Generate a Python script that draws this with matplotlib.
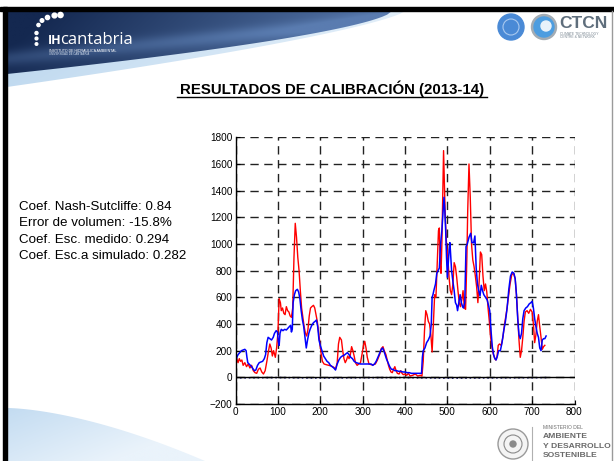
import numpy as np
import matplotlib.pyplot as plt
from matplotlib.patches import Polygon, Circle, Rectangle
from matplotlib.colors import to_rgb

plt.rcParams['font.family'] = ['Liberation Sans', 'DejaVu Sans']

# Caudal medido (rojo): dia, valor
obs_days = [0, 3, 6, 9, 12, 15, 18, 22, 26, 30, 34, 38, 42, 46, 50, 54, 58, 62, 66, 70,
            74, 78, 81, 84, 87, 90, 94, 97, 100, 103, 106, 108, 111, 114, 117, 120, 123, 126, 129, 132,
            135, 138, 141, 144, 147, 150, 153, 156, 159, 162, 165, 168, 171, 174, 177, 180, 184, 187, 190, 193,
            196, 199, 202, 205, 209, 214, 220, 226, 232, 236, 240, 243, 246, 250, 253, 256, 259, 262, 265, 268,
            271, 274, 277, 280, 283, 287, 291, 295, 299, 302, 305, 308, 311, 315, 320, 325, 330, 335, 340, 344,
            348, 351, 355, 358, 361, 364, 367, 370, 373, 376, 379, 382, 386, 390, 393, 396, 400, 404, 408, 412,
            418, 424, 430, 436, 440, 443, 446, 449, 452, 455, 458, 461, 464, 467, 470, 473, 476, 479, 481, 483,
            485, 487, 489, 491, 493, 495, 498, 501, 504, 507, 510, 513, 516, 519, 522, 525, 528, 531, 534, 537,
            540, 543, 546, 548, 551, 554, 557, 560, 563, 566, 569, 572, 575, 578, 581, 584, 587, 590, 593, 596,
            599, 602, 605, 608, 611, 614, 617, 620, 623, 627, 631, 635, 640, 644, 648, 652, 656, 660, 663, 666,
            669, 672, 675, 678, 681, 684, 688, 692, 696, 700, 703, 706, 709, 712, 715, 718, 721, 724, 727, 730]
obs_vals = [100, 140, 110, 140, 120, 130, 90, 110, 80, 100, 70, 90, 50, 35, 30, 60, 70, 40, 25, 50,
            120, 200, 250, 220, 160, 200, 150, 220, 330, 590, 560, 500, 520, 480, 470, 530, 500, 490, 460, 450,
            520, 900, 1155, 1050, 900, 800, 650, 520, 450, 380, 330, 310, 360, 460, 520, 530, 540, 520, 470, 420,
            340, 260, 180, 120, 100, 95, 90, 85, 75, 60, 110, 250, 300, 280, 200, 140, 110, 130, 160, 140,
            170, 230, 200, 160, 110, 90, 100, 110, 180, 240, 270, 220, 150, 100, 95, 95, 100, 130, 170, 215,
            230, 200, 170, 130, 90, 60, 40, 35, 60, 80, 50, 30, 25, 50, 30, 20, 25, 15, 30, 10,
            15, 25, 10, 15, 10, 120, 350, 500, 470, 420, 400, 320, 190, 400, 620, 600, 850, 1100, 1120, 850,
            780, 1000, 1350, 1700, 1450, 1200, 1000, 900, 750, 650, 620, 700, 860, 830, 750, 650, 560, 530, 580, 650,
            520, 510, 900, 1250, 1600, 1350, 1000, 880, 830, 760, 680, 560, 720, 940, 920, 760, 650, 700, 640, 520,
            420, 300, 230, 180, 150, 130, 150, 240, 250, 240, 300, 400, 500, 600, 700, 770, 780, 740, 620, 450,
            280, 150, 200, 300, 420, 490, 500, 480, 510, 490, 400, 260, 320, 420, 470, 380, 300, 210, 230, 240]

# Caudal simulado (azul): dia, valor
sim_days = [0, 3, 6, 10, 14, 18, 22, 25, 27, 29, 32, 35, 38, 42, 45, 48, 52, 56, 60, 64,
            68, 71, 74, 77, 81, 85, 89, 92, 96, 99, 101, 103, 105, 108, 112, 116, 120, 124, 127, 130,
            132, 134, 136, 139, 142, 146, 149, 152, 155, 158, 161, 164, 167, 170, 173, 176, 180, 184, 188, 191,
            194, 197, 200, 204, 208, 212, 216, 220, 224, 228, 232, 236, 240, 244, 248, 252, 256, 260, 264, 268,
            272, 276, 280, 285, 290, 295, 300, 305, 310, 315, 320, 324, 328, 332, 336, 340, 344, 347, 350, 353,
            356, 360, 364, 368, 372, 376, 380, 385, 390, 395, 400, 405, 410, 415, 420, 425, 430, 435, 439, 441,
            443, 447, 451, 455, 459, 462, 464, 466, 468, 472, 475, 478, 481, 484, 487, 490, 492, 494, 496, 498,
            500, 502, 504, 506, 508, 510, 513, 516, 519, 522, 524, 527, 530, 533, 536, 538, 541, 544, 547, 551,
            555, 558, 562, 565, 568, 571, 574, 577, 580, 583, 586, 590, 594, 597, 600, 603, 606, 609, 612, 615,
            618, 621, 625, 629, 633, 637, 641, 645, 649, 653, 657, 660, 663, 666, 669, 672, 675, 678, 681, 685,
            689, 693, 697, 700, 703, 706, 709, 712, 715, 718, 721, 724, 727, 730, 733]
sim_vals = [110, 150, 170, 185, 200, 205, 210, 200, 150, 110, 100, 90, 80, 60, 50, 55, 90, 110, 115, 120,
            140, 170, 260, 300, 290, 280, 300, 330, 350, 340, 270, 240, 330, 360, 350, 360, 355, 370, 380, 390,
            340, 360, 560, 620, 650, 660, 640, 590, 500, 430, 380, 300, 220, 280, 330, 360, 390, 410, 420, 430,
            380, 280, 240, 200, 160, 140, 120, 110, 90, 80, 70, 55, 100, 130, 150, 160, 165, 175, 185, 170,
            150, 140, 120, 110, 105, 100, 100, 100, 100, 100, 100, 90, 100, 120, 150, 180, 210, 220, 200, 170,
            140, 110, 80, 60, 60, 50, 50, 45, 45, 40, 40, 35, 35, 30, 30, 30, 30, 30, 30, 150,
            200, 220, 260, 280, 310, 400, 600, 620, 650, 700, 780, 800, 820, 1000, 1100, 1250, 1350, 1250, 1100, 900,
            750, 850, 950, 1010, 900, 800, 720, 650, 560, 540, 500, 560, 620, 560, 530, 520, 560, 980, 1000, 1050,
            1080, 1010, 1010, 1060, 820, 700, 650, 610, 690, 650, 620, 600, 580, 540, 500, 350, 230, 170, 140, 130,
            160, 200, 200, 260, 350, 420, 520, 660, 760, 790, 780, 740, 620, 440, 320, 290, 330, 440, 500, 520,
            530, 550, 560, 570, 520, 440, 380, 330, 300, 220, 200, 280, 290, 290, 310]

# Serie auxiliar cercana a cero
aux_days = [0, 100, 200, 300, 400, 500, 600, 700, 735]
aux_vals = [-4, -2, -5, -3, -2, -6, -4, -3, -2]

title = "RESULTADOS DE CALIBRACIÓN (2013-14)"
stats = ["Coef. Nash-Sutcliffe: 0.84",
         "Error de volumen: -15.8%",
         "Coef. Esc. medido: 0.294",
         "Coef. Esc.a simulado: 0.282"]
x_ticks = [0, 100, 200, 300, 400, 500, 600, 700, 800]
y_ticks = [-200, 0, 200, 400, 600, 800, 1000, 1200, 1400, 1600, 1800]

W, H = 614, 461
fig = plt.figure(figsize=(W / 100, H / 100), dpi=100)

# fondo de la diapositiva en coordenadas de pixel
bg = fig.add_axes([0, 0, 1, 1])
bg.set_xlim(0, W)
bg.set_ylim(H, 0)
bg.axis('off')


def gradient_fill(pts, c0, c1, extent, angle=0.0, streak=None):
    poly = Polygon(pts, closed=True, facecolor='none', edgecolor='none')
    bg.add_patch(poly)
    nx, ny = 300, 80
    u, v = np.meshgrid(np.linspace(0, 1, nx), np.linspace(0, 1, ny))
    t = np.clip(u * np.cos(angle) + v * np.sin(angle), 0, 1)
    if streak is not None:
        t = np.clip(t + streak(u, v), 0, 1)
    a, b = np.array(to_rgb(c0)), np.array(to_rgb(c1))
    img = a[None, None, :] * (1 - t[..., None]) + b[None, None, :] * t[..., None]
    im = bg.imshow(img, extent=extent, aspect='auto', interpolation='bilinear', zorder=1)
    im.set_clip_path(poly)


# franja azul clara bajo la cabecera
xs = np.linspace(7, 405, 80)
low_light = 11 + 76 * ((405 - xs) / 398) ** 0.75
pts = np.vstack([np.column_stack([xs, low_light]), [[405, 11], [7, 11]]])
gradient_fill(pts, '#b4d2ec', '#e4f0fa', [7, 405, 90, 10], angle=0.3)

# cabecera azul oscuro
xs = np.linspace(7, 392, 80)
low_dark = 11 + 63 * ((392 - xs) / 385) ** 0.65
pts = np.vstack([np.column_stack([xs, low_dark]), [[392, 11], [7, 11]]])
gradient_fill(pts, '#142850', '#5a7cb0', [7, 392, 75, 10], angle=0.15,
              streak=lambda u, v: 0.35 * np.exp(-((v - 0.75 + 0.6 * u) / 0.12) ** 2) - 0.1)

# curva azul clara inferior izquierda
xs = np.linspace(7, 205, 60)
top_curve = 408 + 53 * ((xs - 7) / 198) ** 1.6
pts = np.vstack([np.column_stack([xs, top_curve]), [[205, H], [7, H]]])
gradient_fill(pts, '#c2dbf1', '#eaf3fb', [7, 205, H, 405], angle=0.6)

# bordes de la diapositiva
bg.add_patch(Rectangle((0, 7), W, 4, color='black', zorder=5))
bg.add_patch(Rectangle((3, 7), 4, H - 7, color='black', zorder=5))
bg.plot([611.5, 611.5], [11, H], color='#9a9a9a', lw=1, zorder=5)

# logo IH cantabria
for cx, cy, r in [(60.5, 15, 2.6), (54.5, 15.5, 2.4), (47.5, 17.5, 2.1), (42, 20.5, 1.8),
                  (38.5, 25, 1.6), (36.5, 33, 1.5), (36.5, 38.5, 1.4), (36.5, 44, 1.3)]:
    bg.add_patch(Circle((cx, cy), r, color='white', zorder=6))
bg.text(47.5, 44, "IH", color='white', fontsize=9, fontweight='bold',
        family=['Open Sans', 'DejaVu Sans'], va='baseline', zorder=6)
bg.text(60.5, 44, "cantabria", color='white', fontsize=12,
        family=['Open Sans', 'DejaVu Sans'], va='baseline', zorder=6)
bg.text(49, 50.5, "INSTITUTO DE HIDRÁULICA AMBIENTAL", color='white', fontsize=2.6,
        va='center', zorder=6)
bg.text(49, 54, "UNIVERSIDAD DE CANTABRIA", color='#d8e2f0', fontsize=2,
        va='center', zorder=6)

# logo CTCN
bg.add_patch(Circle((511, 27), 13, color='#4a8ad6', zorder=6))
bg.add_patch(Circle((511, 27), 8, facecolor='none', edgecolor='#a9c9ef', lw=0.8, zorder=6))
bg.add_patch(Circle((544, 27), 12.5, color='#a3acb4', zorder=6))
bg.add_patch(Circle((544, 27), 10, color='#4d9de0', zorder=6))
bg.add_patch(Circle((546, 26), 5, color='#e9f2fa', zorder=6))
bg.text(559, 24, "CTCN", color='#5f6e7c', fontsize=12.5, fontweight='bold',
        va='center', zorder=6)
bg.text(560, 34, "CLIMATE TECHNOLOGY", color='#7a8792', fontsize=2.4, va='center', zorder=6)
bg.text(560, 37.5, "CENTRE & NETWORK", color='#7a8792', fontsize=2.4, va='center', zorder=6)

# logo del ministerio
bg.add_patch(Circle((513, 444), 15, facecolor='#f4f4f4', edgecolor='#9a9a9a', lw=1, zorder=6))
bg.add_patch(Circle((513, 444), 9, facecolor='none', edgecolor='#8a8a8a', lw=0.8, zorder=6))
bg.add_patch(Circle((513, 444), 3, color='#8a8a8a', zorder=6))
bg.plot([532, 532], [427, H], color='#b0b0b0', lw=0.8, zorder=6)
bg.text(543, 427, "MINISTERIO DEL", color='#707070', fontsize=3.6, va='center', zorder=6)
for yy, s in [(436, "AMBIENTE"), (446, "Y DESARROLLO"), (455.5, "SOSTENIBLE")]:
    bg.text(543, yy, s, color='#6a6a6a', fontsize=6.1, fontweight='bold', va='center', zorder=6)

# titulo subrayado
bg.text(332, 89, title, ha='center', va='center', fontsize=10.8, fontweight='bold', zorder=6)
bg.plot([177, 487], [97, 97], color='black', lw=1, zorder=6)

# indicadores de ajuste
for i, s in enumerate(stats):
    bg.text(19, 207 + 16.3 * i, s, fontsize=9.6, va='center', zorder=6)

# grafico de caudales
ax = fig.add_axes([235.5 / W, (H - 404) / H, 339 / W, 266.7 / H])
ax.patch.set_alpha(0)
ax.plot(obs_days, obs_vals, color='#ff0000', lw=1.0)
ax.plot(sim_days, sim_vals, color='#0000ff', lw=1.1)
ax.plot(aux_days, aux_vals, color='#1a1a6e', lw=1.2, linestyle=':')
ax.axhline(0, color='black', lw=1.0)
ax.set_xlim(0, 800)
ax.set_ylim(-200, 1800)
ax.set_xticks(x_ticks)
ax.set_yticks(y_ticks)
ax.grid(True, color='#222222', linestyle=(0, (6, 4)), lw=1.0)
for side in ['top', 'right']:
    ax.spines[side].set_visible(False)
for side in ['left', 'bottom']:
    ax.spines[side].set_linewidth(1.0)
ax.tick_params(direction='in', length=3, labelsize=7.2, pad=2)

fig.savefig('out.png', dpi=100)
